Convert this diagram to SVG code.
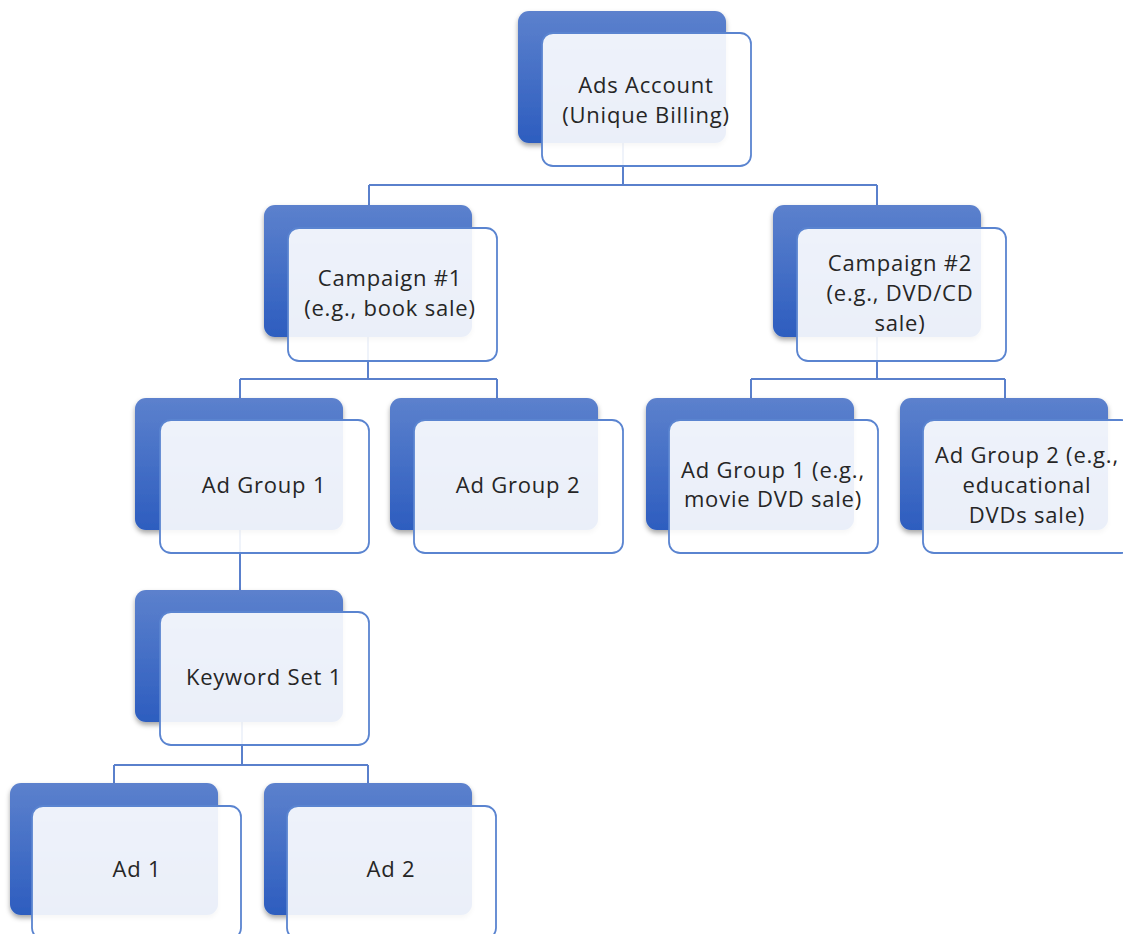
<svg xmlns="http://www.w3.org/2000/svg" width="1123" height="934" viewBox="0 0 1123 934">
<style>
.back{fill:url(#bg);filter:url(#sh)}
.front{fill:#ffffff;fill-opacity:0.9;stroke:#5A84D0;stroke-width:1.8}
.conn{fill:none;stroke:#5A80CC;stroke-width:2}
text{font-family:"Open Sans","Liberation Sans",sans-serif;font-size:22px;letter-spacing:0.8px;fill:#262626;text-anchor:middle}
</style>
<defs>
<linearGradient id="bg" x1="0" y1="0" x2="0" y2="1">
<stop offset="0" stop-color="#5C81CD"/>
<stop offset="1" stop-color="#2D5DBF"/>
</linearGradient>
<filter id="sh" x="-10%" y="-10%" width="120%" height="130%">
<feDropShadow dx="0" dy="3" stdDeviation="2.5" flood-color="#000" flood-opacity="0.35"/>
</filter>
</defs>
<rect width="1123" height="934" fill="#ffffff"/>
<g id="connectors">
<path class="conn" d="M623,143 V185 M369,185 H877 M369,185 V205 M877,185 V205"/>
<path class="conn" d="M368,337 V379 M240,379 H497 M240,379 V398 M497,379 V398"/>
<path class="conn" d="M877,337 V379 M751,379 H1005 M751,379 V398 M1005,379 V398"/>
<path class="conn" d="M240,530 V590"/>
<path class="conn" d="M242,722 V765 M114,765 H368 M114,765 V783 M368,765 V783"/>
</g>
<g id="ads-account">
<rect class="back" x="518" y="11" width="208" height="132" rx="11"/>
<rect class="front" x="542" y="33" width="209" height="133" rx="11"/>
<text x="646" y="93">Ads Account</text>
<text x="646" y="123">(Unique Billing)</text>
</g>
<g id="campaign-1">
<rect class="back" x="264" y="205" width="208" height="132" rx="11"/>
<rect class="front" x="288" y="228" width="209" height="133" rx="11"/>
<text x="390" y="286">Campaign #1</text>
<text x="390" y="316">(e.g., book sale)</text>
</g>
<g id="campaign-2">
<rect class="back" x="773" y="205" width="208" height="132" rx="11"/>
<rect class="front" x="797" y="228" width="209" height="133" rx="11"/>
<text x="900" y="271">Campaign #2</text>
<text x="900" y="301">(e.g., DVD/CD</text>
<text x="900" y="331">sale)</text>
</g>
<g id="ad-group-1-left">
<rect class="back" x="135" y="398" width="208" height="132" rx="11"/>
<rect class="front" x="160" y="420" width="209" height="133" rx="11"/>
<text x="264" y="493">Ad Group 1</text>
</g>
<g id="ad-group-2-left">
<rect class="back" x="390" y="398" width="208" height="132" rx="11"/>
<rect class="front" x="414" y="420" width="209" height="133" rx="11"/>
<text x="518" y="493">Ad Group 2</text>
</g>
<g id="ad-group-1-right">
<rect class="back" x="646" y="398" width="208" height="132" rx="11"/>
<rect class="front" x="669" y="420" width="209" height="133" rx="11"/>
<text x="773" y="478">Ad Group 1 (e.g.,</text>
<text x="773" y="507">movie DVD sale)</text>
</g>
<g id="ad-group-2-right">
<rect class="back" x="900" y="398" width="208" height="132" rx="11"/>
<rect class="front" x="923" y="420" width="209" height="133" rx="11"/>
<text x="1027" y="463">Ad Group 2 (e.g.,</text>
<text x="1027" y="493">educational</text>
<text x="1027" y="523">DVDs sale)</text>
</g>
<g id="keyword-set-1">
<rect class="back" x="135" y="590" width="208" height="132" rx="11"/>
<rect class="front" x="160" y="612" width="209" height="133" rx="11"/>
<text x="264" y="685">Keyword Set 1</text>
</g>
<g id="ad-1">
<rect class="back" x="10" y="783" width="208" height="132" rx="11"/>
<rect class="front" x="32" y="806" width="209" height="133" rx="11"/>
<text x="137" y="877">Ad 1</text>
</g>
<g id="ad-2">
<rect class="back" x="264" y="783" width="208" height="132" rx="11"/>
<rect class="front" x="287" y="806" width="209" height="133" rx="11"/>
<text x="391" y="877">Ad 2</text>
</g>
</svg>
